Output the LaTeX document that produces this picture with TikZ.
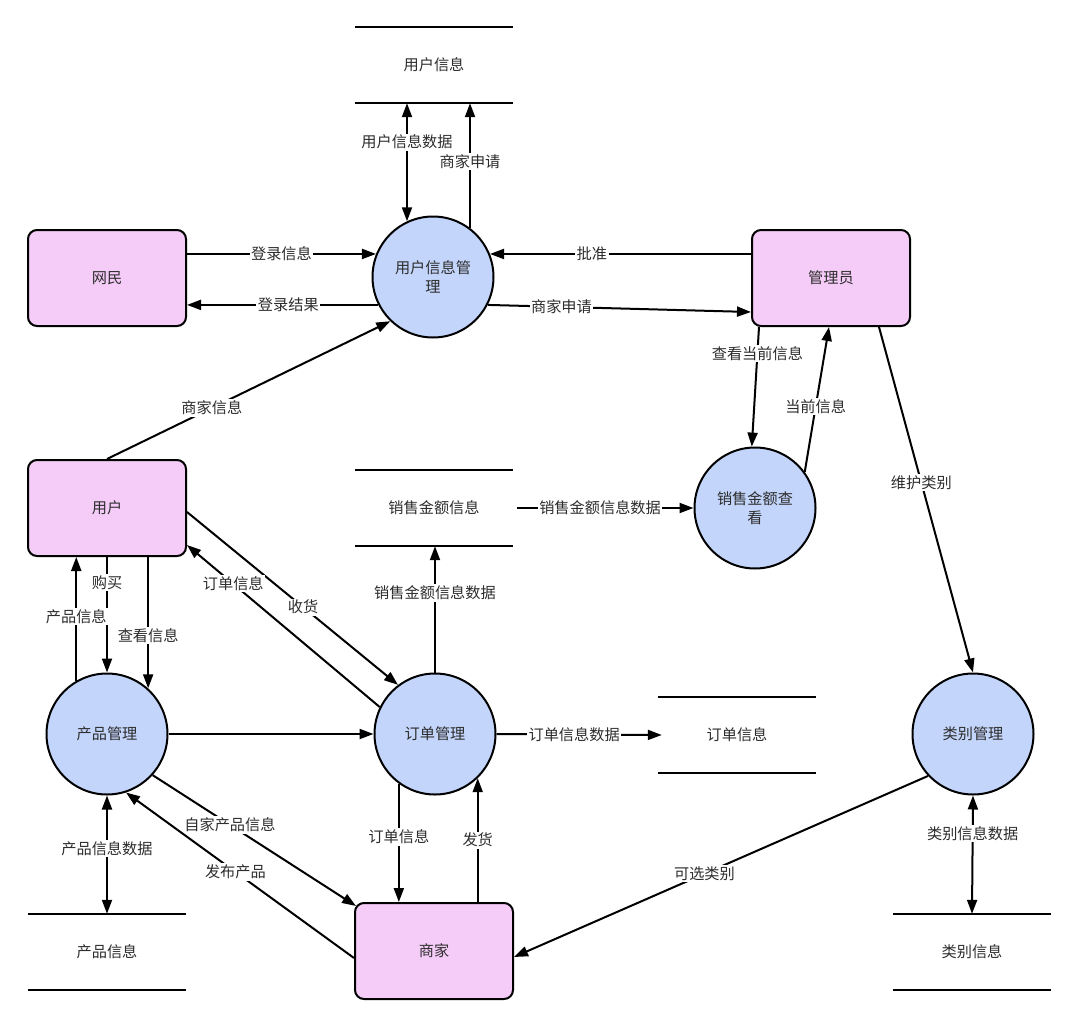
\documentclass[tikz,border=0pt]{standalone}
\usepackage{fontspec}
\setmainfont{Noto Sans CJK SC}
\usetikzlibrary{arrows.meta}
\definecolor{pinkf}{RGB}{245,204,247}
\definecolor{bluef}{RGB}{195,213,250}
\definecolor{txt}{RGB}{45,45,45}
\begin{document}
\begin{tikzpicture}[x=1pt,y=-1pt,
 every node/.style={font=\fontsize{15.2}{19}\selectfont, text=txt},
 entity/.style={draw=black, line width=2pt, fill=pinkf, rounded corners=9pt, minimum width=158pt, minimum height=96pt},
 proc/.style={draw=black, line width=2pt, fill=bluef, circle, minimum size=121pt, inner sep=0pt, align=center},
 store/.style={minimum width=158pt, minimum height=76pt, inner sep=0pt},
 sline/.style={line width=2pt},
 flow/.style={line width=2pt, -{Triangle[length=14pt,width=10pt]}},
 bflow/.style={line width=2pt, {Triangle[length=14pt,width=10pt]}-{Triangle[length=14pt,width=10pt]}},
 lbl/.style={fill=white, inner sep=1.5pt}]
\fill[white] (0,0) rectangle (1080,1028);
\useasboundingbox (0,0) rectangle (1080,1028);

% stores
\node[store] (uinfo) at (434,65) {用户信息};
\node[store] (sinfo) at (434,508) {销售金额信息};
\node[store] (oinfo) at (737,735) {订单信息};
\node[store] (pinfo) at (107,952) {产品信息};
\node[store] (catinfo) at (972,952) {类别信息};
\foreach \s in {uinfo,sinfo,oinfo,pinfo,catinfo}{
  \draw[sline] (\s.north west) -- (\s.north east) (\s.south west) -- (\s.south east);
}

% entities
\node[entity] (wm) at (107,278) {网民};
\node[entity] (adm) at (831,278) {管理员};
\node[entity] (user) at (107,508) {用户};
\node[entity] (shop) at (434,951) {商家};

% processes
\node[proc] (uim) at (433,277) {用户信息管\\理};
\node[proc] (sale) at (755,508) {销售金额查\\看};
\node[proc] (om) at (435,734) {订单管理};
\node[proc] (pm) at (107,734) {产品管理};
\node[proc] (cat) at (973,734) {类别管理};

% flows around 用户信息管理
\draw[flow] (wm.east |- uim.158) -- node[lbl,pos=0.5] {登录信息} (uim.158);
\draw[flow] (uim.207) -- node[lbl,pos=0.47] {登录结果} (wm.east |- uim.207);
\draw[bflow] (uinfo.south -| uim.115) -- node[lbl,pos=0.33] {用户信息数据} (uim.115);
\draw[flow] (uim.53) -- node[lbl,pos=0.53] {商家申请} (uinfo.south -| uim.53);
\draw[flow] (adm.west |- uim.22) -- node[lbl,pos=0.61] {批准} (uim.22);
\draw[flow] (uim.-27) -- node[lbl,pos=0.28] {商家申请} ([yshift=-34pt]adm.west);
\draw[flow] (user.north) -- node[lbl,pos=0.37] {商家信息} (uim.226);

% 管理员 related
\draw[flow] ([xshift=8pt]adm.south west) -- node[lbl,pos=0.22] {查看当前信息} (sale.93);
\draw[flow] (sale.36) -- node[lbl,pos=0.45] {当前信息} ([xshift=78pt]adm.south west);
\draw[flow] ([xshift=128pt]adm.south west) -- node[lbl,pos=0.45] {维护类别} (cat.north);
\draw[flow] ([xshift=4pt]sinfo.east) -- node[lbl,pos=0.47] {销售金额信息数据} (sale.west);

% 订单管理 related
\draw[flow] (om.north) -- node[lbl,pos=0.63] {销售金额信息数据} (sinfo.south -| om.north);
\draw[flow] ([yshift=-4pt]user.east) -- node[lbl,pos=0.55] {收货} (om.127);
\draw[flow] (om.154) -- node[lbl,pos=0.76] {订单信息} ([yshift=12pt]user.south east);
\draw[flow] (pm.east) -- (om.west);
\draw[flow] (om.east) -- node[lbl,pos=0.47] {订单信息数据} ([xshift=4pt]oinfo.west);
\draw[flow] (om.-126) -- node[lbl,pos=0.45] {订单信息} (shop.north -| om.-126);
\draw[flow] (shop.north -| om.-46) -- node[lbl,pos=0.5] {发货} (om.-46);

% 产品管理 related
\draw[flow] (user.south) -- node[lbl,pos=0.22] {购买} (pm.north);
\draw[flow] (user.south -| pm.48) -- node[lbl,pos=0.6] {查看信息} (pm.48);
\draw[flow] (pm.120) -- node[lbl,pos=0.52] {产品信息} (user.south -| pm.120);
\draw[bflow] (pm.south) -- node[lbl,pos=0.45] {产品信息数据} (pinfo.north);
\draw[flow] (pm.-42) -- node[lbl,pos=0.38] {自家产品信息} ([xshift=2pt,yshift=-4pt]shop.north west);
\draw[flow] ([yshift=-7pt]shop.west) -- node[lbl,pos=0.52] {发布产品} (pm.-72);

% 类别管理 related
\draw[flow] (cat.-137) -- node[lbl,pos=0.54] {可选类别} ([yshift=-6pt]shop.east);
\draw[bflow] (cat.south) -- node[lbl,pos=0.32] {类别信息数据} (catinfo.north);
\end{tikzpicture}
\end{document}
